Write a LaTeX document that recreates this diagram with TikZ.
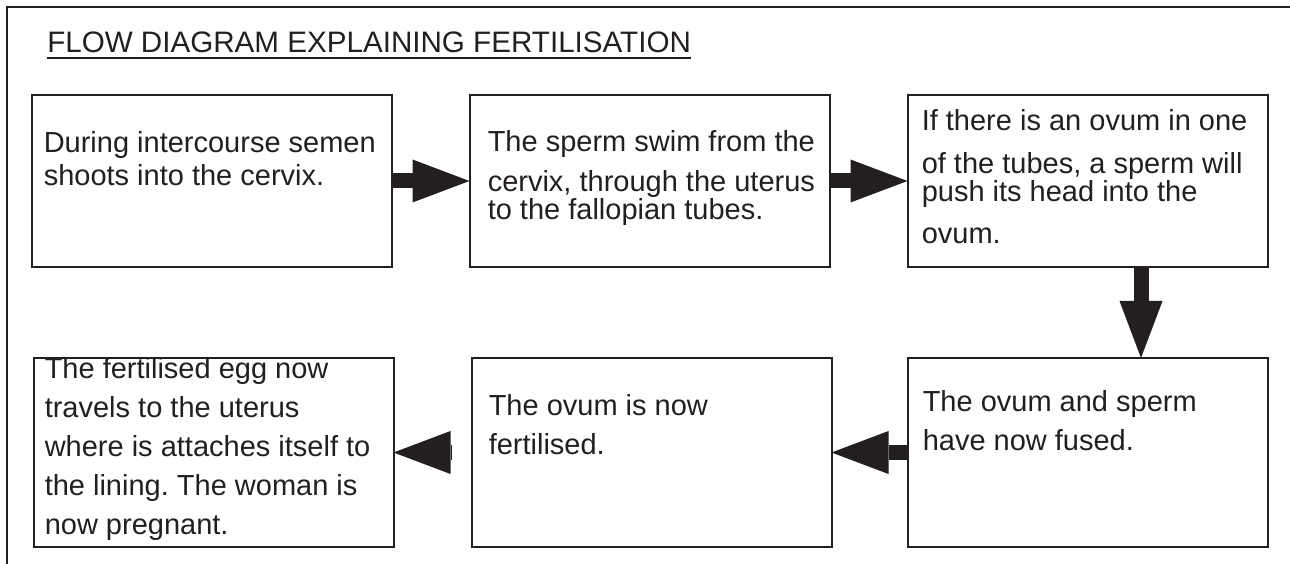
\documentclass[tikz,border=0pt]{standalone}
\usepackage{fontspec}
\setmainfont{Liberation Sans}
\usetikzlibrary{arrows.meta, positioning}
\definecolor{ink}{HTML}{231F20}
\frenchspacing

\begin{document}
\begin{tikzpicture}[
    x=0.75pt, y=0.75pt,
    stepbox/.style={
        draw=ink, rectangle, line width=1.5pt, outer sep=0pt,
        minimum width=270pt, minimum height=129pt
    },
    lowbox/.style={stepbox, minimum height=141.75pt},
    txt/.style={
        anchor=north west, inner sep=0pt, align=left, text=ink,
        font=\fontsize{21.75pt}{#1}\selectfont
    },
    txt/.default=24pt,
    arr/.style={draw=ink, line width=11.25pt,
        -{Triangle[length=42.75pt, width=32.25pt, line width=0pt]}},
    node distance=58.5pt
]

\useasboundingbox (0,0) rectangle (1290,564);
\draw[ink, line width=1pt] (7,0) -- (7,557) -- (1290,557);

\node[anchor=base west, inner sep=0pt, text=ink,
      font=\fontsize{22.2pt}{26pt}\selectfont] (title) at (47,511)
      {FLOW DIAGRAM EXPLAINING FERTILISATION};
\draw[ink, line width=1.5pt] ([shift={(0,-5)}]title.base west) -- ([shift={(0,-5)}]title.base east);

\node[stepbox] (s1) at (211.5,383) {};
\node[stepbox, right=of s1] (s2) {};
\node[stepbox, right=of s2] (s3) {};
\node[lowbox, below=68.25pt of s3] (s4) {};
\node[lowbox, left=57pt of s4] (s5) {};
\node[lowbox, left=of s5] (s6) {};

\node[txt=24.75pt] (t1) at ([shift={(12,-36)}]s1.north west)
    {During intercourse semen\\shoots into the cervix.};
\node[txt=21pt] (t2) at ([shift={(18,-35)}]s2.north west)
    {The sperm swim from the\\[9pt]cervix, through the uterus\\to the fallopian tubes.};
\node[txt=18.75pt] (t3) at ([shift={(14,-14)}]s3.north west)
    {If there is an ovum in one\\[13.5pt]of the tubes, a sperm will\\push its head into the\\[12.5pt]ovum.};
\node[txt=29.25pt] (t4) at ([shift={(15,-32)}]s4.north west)
    {The ovum and sperm\\have now fused.};
\node[txt=29.25pt] (t5) at ([shift={(17,-36)}]s5.north west)
    {The ovum is now\\fertilised.};
\begin{scope}
    \clip (s6.north west) rectangle (s6.south east);
    \node[txt=29.25pt] (t6) at ([shift={(11,1)}]s6.north west)
        {The fertilised egg now\\travels to the uterus\\where is attaches itself to\\the lining. The woman is\\now pregnant.};
\end{scope}

\draw[arr] (s1) -- (s2);
\draw[arr] (s2) -- (s3);
\draw[arr] ([shift={(53.5,0)}]s3.south) -- ([shift={(53.5,0)}]s4.north);
\draw[arr] (s4) -- (s5);
\draw[arr, shorten <=15.5pt] (s5) -- (s6);

\end{tikzpicture}
\end{document}
